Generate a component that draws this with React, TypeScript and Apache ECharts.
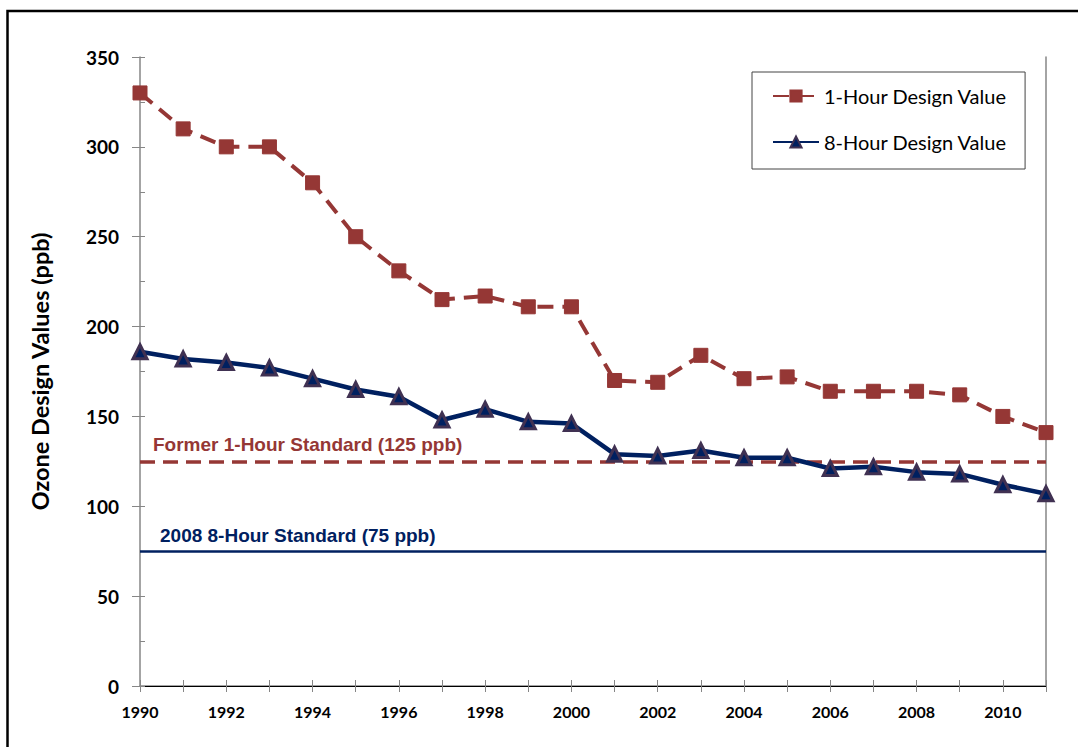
import React, { useEffect, useRef } from "react";
import * as echarts from "echarts";

const years = ["1990","1991","1992","1993","1994","1995","1996","1997","1998","1999","2000","2001","2002","2003","2004","2005","2006","2007","2008","2009","2010","2011"];
const oneHourValues = [330,310,300,300,280,250,231,215,217,211,211,170,169,184,171,172,164,164,164,162,150,141];
const eightHourValues = [186,182,180,177,171,165,161,148,154,147,146,129,128,131,127,127,121,122,119,118,112,107];
const formerStandard = 125;
const newStandard = 75;
const yMin = 0;
const yMax = 350;
const yInterval = 50;

const RED = "#953735";
const NAVY = "#002060";
const CAL = "Lato, 'Open Sans', sans-serif";
const ARIAL = "'Liberation Sans', Arial, sans-serif";

export default function App() {
  const ref = useRef<HTMLDivElement>(null);
  useEffect(() => {
    if (!ref.current) return;
    const chart = echarts.init(ref.current, undefined, { renderer: "svg" });
    chart.setOption({
      animation: false,
      backgroundColor: "#ffffff",
      grid: { left: 140, top: 57, right: 32, bottom: 61, containLabel: false },
      graphic: [
        {
          type: "rect",
          shape: { x: 7.5, y: 11, width: 1100, height: 800 },
          style: { fill: "none", stroke: "#000", lineWidth: 2.5 },
          silent: true,
        },
      ],
      legend: {
        left: 752,
        top: 72,
        orient: "vertical",
        padding: [14, 18, 17, 20],
        itemGap: 26,
        itemWidth: 46,
        itemHeight: 14,
        borderColor: "#444",
        borderWidth: 1,
        backgroundColor: "#fff",
        textStyle: { fontFamily: CAL, fontSize: 20, color: "#000" },
        data: ["1-Hour Design Value", "8-Hour Design Value"],
      },
      xAxis: [
        {
          type: "category",
          data: years,
          boundaryGap: false,
          position: "bottom",
          axisLine: { lineStyle: { color: "#868686", width: 1.5 } },
          axisTick: { show: true, interval: 0, length: 6, lineStyle: { color: "#868686" } },
          axisLabel: {
            interval: 1,
            margin: 17,
            fontFamily: CAL,
            fontWeight: "bold",
            fontSize: 16,
            color: "#000",
          },
          splitLine: { show: false },
        },
        {
          type: "category",
          data: years,
          boundaryGap: false,
          position: "bottom",
          axisLine: { show: false },
          axisTick: { show: true, inside: true, interval: 0, length: 6, lineStyle: { color: "#868686" } },
          axisLabel: { show: false },
          splitLine: { show: false },
        },
        {
          type: "category",
          data: years,
          boundaryGap: false,
          position: "top",
          axisLine: { lineStyle: { color: "#000", width: 1 } },
          axisTick: { show: false },
          axisLabel: { show: false },
          splitLine: { show: false },
        },
      ],
      yAxis: [
        {
          type: "value",
          min: yMin,
          max: yMax,
          interval: yInterval,
          position: "left",
          name: "Ozone Design Values (ppb)",
          nameLocation: "middle",
          nameGap: 88,
          nameTextStyle: { fontFamily: CAL, fontWeight: "bold", fontSize: 23.5, color: "#000" },
          axisLine: { show: true, lineStyle: { color: "#868686", width: 1.5 } },
          axisTick: { show: true, length: 8, lineStyle: { color: "#868686" } },
          axisLabel: { margin: 21, fontFamily: CAL, fontWeight: "bold", fontSize: 19, color: "#000" },
          splitLine: { show: false },
        },
        {
          type: "value",
          min: yMin,
          max: yMax,
          interval: yInterval / 2,
          position: "left",
          axisLine: { show: false },
          axisTick: { show: true, inside: true, length: 5, lineStyle: { color: "#868686" } },
          axisLabel: { show: false },
          splitLine: { show: false },
        },
        {
          type: "value",
          min: yMin,
          max: yMax,
          interval: yInterval,
          position: "right",
          axisLine: { show: true, lineStyle: { color: "#868686", width: 1.5 } },
          axisTick: { show: false },
          axisLabel: { show: false },
          splitLine: { show: false },
        },
      ],
      series: [
        {
          name: "1-Hour Design Value",
          type: "line",
          data: oneHourValues,
          z: 5,
          symbol: "rect",
          symbolSize: 14,
          showAllSymbol: true,
          lineStyle: { color: RED, width: 4, type: [16, 9] },
          itemStyle: { color: RED, borderColor: RED, borderWidth: 1 },
          markLine: {
            silent: true,
            symbol: "none",
            lineStyle: { color: RED, width: 3.5, type: [15, 8] },
            label: {
              show: true,
              position: "insideStartTop",
              distance: [13, 7],
              formatter: "Former 1-Hour Standard (125 ppb)",
              fontFamily: ARIAL,
              fontWeight: "bold",
              fontSize: 19,
              color: RED,
            },
            data: [{ yAxis: formerStandard }],
          },
        },
        {
          name: "8-Hour Design Value",
          type: "line",
          data: eightHourValues,
          z: 6,
          symbol: "triangle",
          symbolSize: 14,
          showAllSymbol: true,
          lineStyle: { color: NAVY, width: 4.5 },
          itemStyle: { color: NAVY, borderColor: "#403152", borderWidth: 3 },
          markLine: {
            silent: true,
            symbol: "none",
            lineStyle: { color: NAVY, width: 2.5, type: "solid" },
            label: {
              show: true,
              position: "insideStartTop",
              distance: [20, 6],
              formatter: "2008 8-Hour Standard (75 ppb)",
              fontFamily: ARIAL,
              fontWeight: "bold",
              fontSize: 19,
              color: NAVY,
            },
            data: [{ yAxis: newStandard }],
          },
        },
      ],
    });
    return () => chart.dispose();
  }, []);
  return (
    <div
      ref={ref}
      style={{ position: "absolute", left: 0, top: 0, width: 1078, height: 747 }}
    />
  );
}
